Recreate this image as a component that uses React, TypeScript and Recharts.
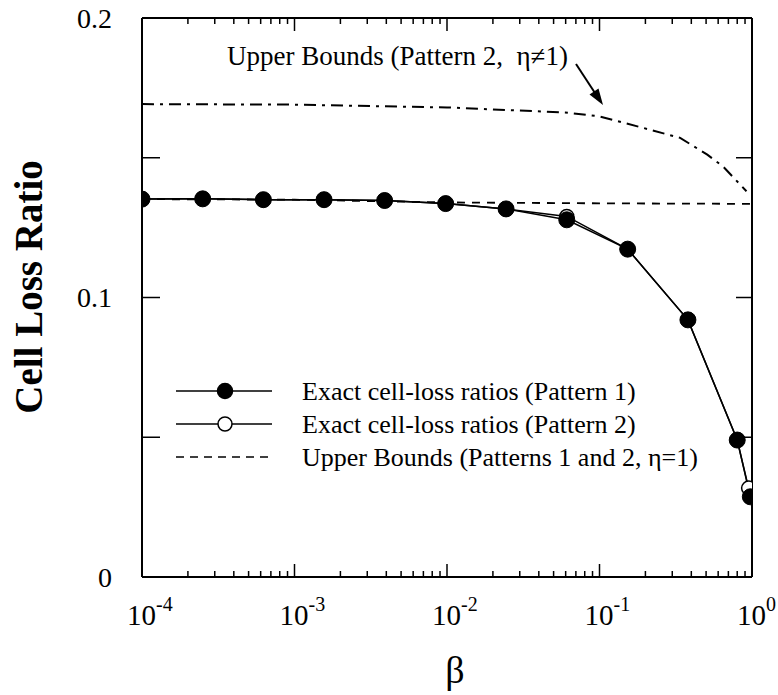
import { ComposedChart, Line, XAxis, YAxis, ReferenceLine } from "recharts";

// plot frame in page pixels (used for the mirrored ticks on top / right)
const PLOT_TOP = 18;
const PLOT_LEFT = 142;
const PLOT_RIGHT = 752;
const PLOT_BOTTOM = 577;
const W = 778;
const H = 695;
const SERIF = '"Liberation Serif", "Times New Roman", serif';

// Exact cell-loss ratios, pattern 1 (filled circles)
const BETA_P1 = [1e-4, 2.5e-4, 6.25e-4, 1.5625e-3, 3.9e-3, 9.8e-3, 0.0244, 0.061, 0.153, 0.38, 0.8, 0.975];
const CLR_P1 = [0.1352, 0.1353, 0.135, 0.135, 0.1347, 0.1336, 0.1317, 0.1278, 0.1173, 0.092, 0.049, 0.0287];

// Exact cell-loss ratios, pattern 2 (open circles)
const BETA_P2 = [1e-4, 2.5e-4, 6.25e-4, 1.5625e-3, 3.9e-3, 9.8e-3, 0.0244, 0.061, 0.153, 0.38, 0.8, 0.95];
const CLR_P2 = [0.1352, 0.1353, 0.135, 0.135, 0.1347, 0.1336, 0.1317, 0.129, 0.1173, 0.092, 0.049, 0.0318];

// Upper bounds, patterns 1 and 2, eta = 1 (dashed)
const BETA_UB1 = [1e-4, 1e-3, 1e-2, 1e-1, 1];
const UB1 = [0.1352, 0.135, 0.134, 0.1337, 0.1335];

// Upper bounds, pattern 2, eta != 1 (dash-dot)
const BETA_UB2 = [1e-4, 1e-3, 1e-2, 0.0594, 0.1, 0.193, 0.338, 0.509, 0.648, 0.92];
const UB2 = [0.1692, 0.169, 0.168, 0.1662, 0.1648, 0.1607, 0.1571, 0.1511, 0.1468, 0.138];

const X_MAJOR = [1e-4, 1e-3, 1e-2, 1e-1, 1];
const X_EXP = ["-4", "-3", "-2", "-1", "0"];
const Y_TICKS = [0, 0.05, 0.1, 0.15, 0.2];
const Y_LABELS = ["0", "", "0.1", "", "0.2"];

const X_TICKS = X_MAJOR.flatMap((d, i) =>
  i === X_MAJOR.length - 1 ? [d] : [1, 2, 3, 4, 5, 6, 7, 8, 9].map((m) => d * m)
);

const toRows = (xs: number[], ys: number[]) => xs.map((b, i) => ({ beta: b, v: ys[i] }));

function XTick({ x, y, payload }: any) {
  const v = payload.value as number;
  const i = X_MAJOR.findIndex((m) => Math.abs(m - v) / m < 1e-6);
  const major = i >= 0;
  const len = major ? 13 : 6;
  return (
    <g>
      <line x1={x} y1={y} x2={x} y2={y - len} stroke="#000" strokeWidth={1.5} />
      <line x1={x} y1={PLOT_TOP} x2={x} y2={PLOT_TOP + len} stroke="#000" strokeWidth={1.5} />
      {major && (
        <text x={x - 15} y={y + 48} fontSize={29} fontFamily={SERIF} fill="#000">
          <tspan>10</tspan>
          <tspan fontSize={20} dy={-14}>
            {X_EXP[i]}
          </tspan>
        </text>
      )}
    </g>
  );
}

function YTick({ x, y, payload }: any) {
  const i = Y_TICKS.findIndex((t) => Math.abs(t - payload.value) < 1e-9);
  return (
    <g>
      <line x1={x} y1={y} x2={x + 18} y2={y} stroke="#000" strokeWidth={1.5} />
      <line x1={PLOT_RIGHT} y1={y} x2={PLOT_RIGHT - 16} y2={y} stroke="#000" strokeWidth={1.5} />
      {Y_LABELS[i] && (
        <text x={x - 30} y={y} dy="0.35em" textAnchor="end" fontSize={28} fontFamily={SERIF} fill="#000">
          {Y_LABELS[i]}
        </text>
      )}
    </g>
  );
}

function Legend() {
  const rows = [
    { y: 391, label: "Exact cell-loss ratios (Pattern 1)", kind: "filled" },
    { y: 424, label: "Exact cell-loss ratios (Pattern 2)", kind: "open" },
    { y: 457, label: "Upper Bounds (Patterns 1 and 2, \u03b7=1)", kind: "dash" },
  ];
  return (
    <>
      {rows.map((r) => (
        <g key={r.label}>
          <line
            x1={176}
            y1={r.y}
            x2={272}
            y2={r.y}
            stroke="#000"
            strokeWidth={1.5}
            strokeDasharray={r.kind === "dash" ? "8 6" : undefined}
          />
          {r.kind !== "dash" && (
            <circle
              cx={225}
              cy={r.y}
              r={r.kind === "filled" ? 7.5 : 7}
              fill={r.kind === "filled" ? "#000" : "#fff"}
              stroke="#000"
              strokeWidth={1.5}
            />
          )}
          <text x={302} y={r.y} dy="0.35em" fontSize={26} fontFamily={SERIF} fill="#000">
            {r.label}
          </text>
        </g>
      ))}
    </>
  );
}

export default function App() {
  const p1 = toRows(BETA_P1, CLR_P1);
  const p2 = toRows(BETA_P2, CLR_P2);
  const ub1 = toRows(BETA_UB1, UB1);
  const ub2 = toRows(BETA_UB2, UB2);

  return (
    <div style={{ position: "relative", width: W, height: H, background: "#fff" }}>
      <style>{`body{margin:0;background:#fff}`}</style>
      <ComposedChart
        width={W}
        height={H}
        margin={{ top: PLOT_TOP, right: W - PLOT_RIGHT, bottom: H - PLOT_BOTTOM - 1, left: PLOT_LEFT - 1 }}
      >
        <XAxis
          dataKey="beta"
          type="number"
          scale="log"
          domain={[1e-4, 1]}
          allowDataOverflow
          ticks={X_TICKS}
          interval={0}
          height={1}
          tickSize={0}
          tickMargin={0}
          tickLine={false}
          axisLine={{ stroke: "#000", strokeWidth: 2 }}
          tick={(props: any) => <XTick {...props} />}
        />
        <YAxis
          type="number"
          domain={[0, 0.2]}
          ticks={Y_TICKS}
          interval={0}
          width={1}
          tickSize={0}
          tickMargin={0}
          tickLine={false}
          axisLine={{ stroke: "#000", strokeWidth: 2 }}
          tick={(props: any) => <YTick {...props} />}
        />
        <ReferenceLine y={0.2} stroke="#000" strokeWidth={2} />
        <ReferenceLine x={1} stroke="#000" strokeWidth={2} />

        <Line
          data={ub2}
          dataKey="v"
          stroke="#000"
          strokeWidth={2}
          strokeDasharray="12 6 3 6"
          dot={false}
          activeDot={false}
          isAnimationActive={false}
        />
        <Line
          data={ub1}
          dataKey="v"
          stroke="#000"
          strokeWidth={1.8}
          strokeDasharray="8 7"
          dot={false}
          activeDot={false}
          isAnimationActive={false}
        />
        <Line
          data={p2}
          dataKey="v"
          stroke="#000"
          strokeWidth={1.5}
          dot={{ r: 7, fill: "#fff", stroke: "#000", strokeWidth: 1.5 }}
          activeDot={false}
          isAnimationActive={false}
        />
        <Line
          data={p1}
          dataKey="v"
          stroke="#000"
          strokeWidth={1.5}
          dot={{ r: 8, fill: "#000", stroke: "#000", strokeWidth: 1 }}
          activeDot={false}
          isAnimationActive={false}
        />
      </ComposedChart>

      <svg
        width={W}
        height={H}
        style={{ position: "absolute", left: 0, top: 0, pointerEvents: "none" }}
      >
        <text
          transform="translate(42,287) rotate(-90)"
          textAnchor="middle"
          fontSize={39}
          fontWeight="bold"
          fontFamily={SERIF}
          fill="#000"
        >
          Cell Loss Ratio
        </text>
        <text x={455} y={683} textAnchor="middle" fontSize={38} fontFamily={SERIF} fill="#000">
          {"\u03b2"}
        </text>
        <text x={227} y={65} fontSize={27} fontFamily={SERIF} fill="#000">
          {"Upper Bounds (Pattern 2,\u00a0\u00a0\u03b7\u22601)"}
        </text>
        <line x1={576} y1={64} x2={595} y2={93} stroke="#000" strokeWidth={2} />
        <polygon points="603,105 598.5,88.5 589.5,94.5" fill="#000" />
        <Legend />
      </svg>
    </div>
  );
}
